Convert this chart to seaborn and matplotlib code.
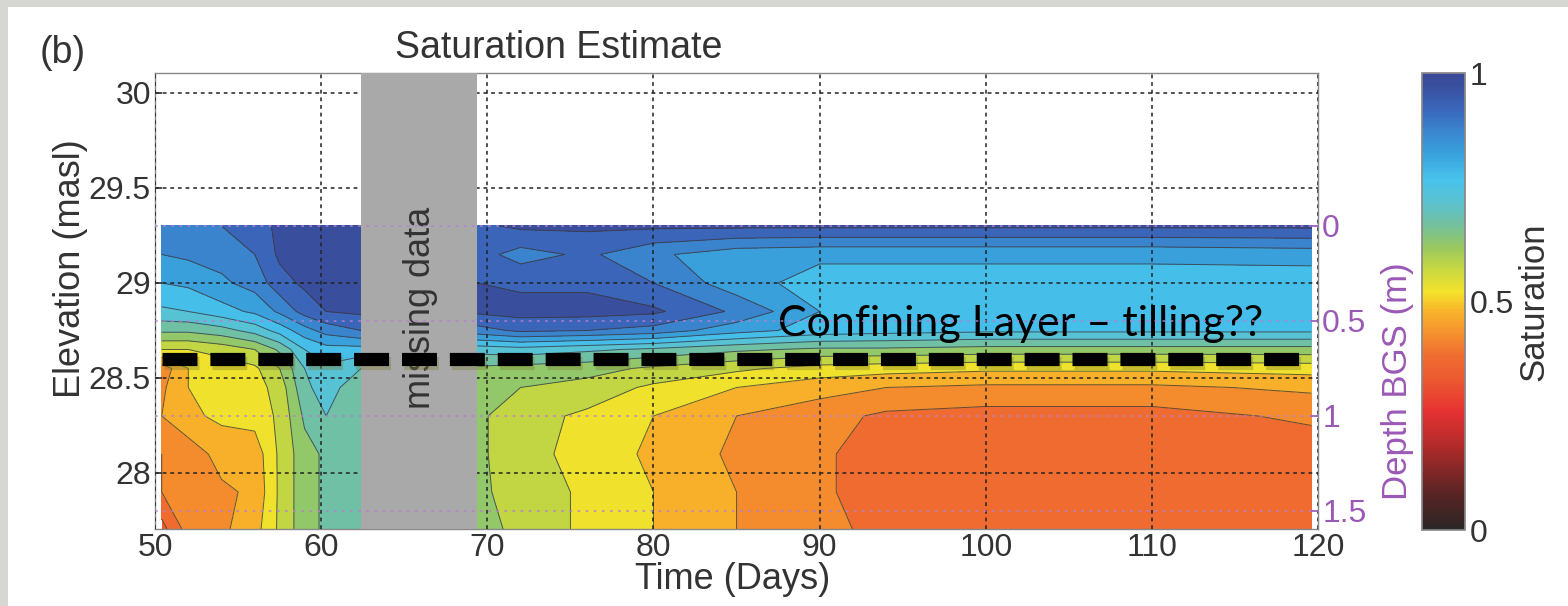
import numpy as np
import seaborn as sns
import matplotlib
matplotlib.use("Agg")
import matplotlib.pyplot as plt
import matplotlib.patheffects as pe
from matplotlib.colors import LinearSegmentedColormap, Normalize
from matplotlib.patches import Rectangle

# elevation rows (masl), top of monitored profile down to bottom
elev = [29.3, 29.15, 29.0, 28.85, 28.75, 28.65, 28.55, 28.45, 28.3, 28.1, 27.9, 27.7]

# days before the data gap
t_early = [50.4, 52, 54, 56, 57.5, 59, 60.3, 62.4]
sat_early = [
    [0.89, 0.85, 0.80, 0.74, 0.66, 0.55, 0.42, 0.44, 0.45, 0.40, 0.40, 0.33],
    [0.90, 0.86, 0.81, 0.75, 0.66, 0.55, 0.50, 0.50, 0.49, 0.42, 0.42, 0.42],
    [0.90, 0.87, 0.84, 0.78, 0.68, 0.57, 0.52, 0.52, 0.51, 0.47, 0.44, 0.44],
    [0.93, 0.90, 0.87, 0.81, 0.72, 0.60, 0.54, 0.53, 0.52, 0.47, 0.46, 0.48],
    [0.96, 0.96, 0.93, 0.86, 0.77, 0.66, 0.60, 0.57, 0.56, 0.56, 0.56, 0.56],
    [0.97, 0.97, 0.96, 0.92, 0.83, 0.75, 0.70, 0.69, 0.66, 0.63, 0.63, 0.63],
    [0.97, 0.97, 0.97, 0.95, 0.87, 0.78, 0.74, 0.72, 0.70, 0.66, 0.66, 0.66],
    [0.97, 0.97, 0.97, 0.96, 0.90, 0.78, 0.70, 0.67, 0.66, 0.66, 0.65, 0.66],
]

# days after the data gap
t_late = [69.4, 72, 76, 80, 85, 90, 94, 100, 110, 119.6]
sat_late = [
    [0.94, 0.92, 0.95, 0.96, 0.88, 0.72, 0.64, 0.62, 0.61, 0.61, 0.61, 0.63],
    [0.96, 0.88, 0.94, 0.97, 0.91, 0.73, 0.63, 0.60, 0.57, 0.57, 0.58, 0.58],
    [0.96, 0.91, 0.94, 0.97, 0.90, 0.71, 0.62, 0.58, 0.54, 0.53, 0.54, 0.54],
    [0.96, 0.86, 0.90, 0.96, 0.88, 0.69, 0.59, 0.54, 0.50, 0.49, 0.50, 0.50],
    [0.96, 0.82, 0.82, 0.89, 0.82, 0.66, 0.56, 0.50, 0.45, 0.44, 0.45, 0.45],
    [0.96, 0.81, 0.78, 0.80, 0.78, 0.64, 0.53, 0.47, 0.42, 0.41, 0.41, 0.42],
    [0.96, 0.81, 0.78, 0.78, 0.77, 0.64, 0.52, 0.45, 0.39, 0.37, 0.37, 0.38],
    [0.96, 0.81, 0.78, 0.78, 0.76, 0.63, 0.51, 0.44, 0.38, 0.36, 0.36, 0.36],
    [0.96, 0.81, 0.78, 0.78, 0.76, 0.63, 0.51, 0.44, 0.38, 0.36, 0.36, 0.36],
    [0.96, 0.82, 0.77, 0.79, 0.76, 0.63, 0.52, 0.46, 0.41, 0.37, 0.36, 0.36],
]

gap_days = [62.4, 69.4]
ground_elev = 29.3
confining_elev = 28.6
confining_span = [50.4, 118.85]
depth_ticks = [0, 0.5, 1, 1.5]

sns.set_theme(style="white")
plt.rcParams["font.family"] = ["Liberation Sans", "DejaVu Sans"]

cmap = LinearSegmentedColormap.from_list("sat", [
    (0.00, "#2b2626"), (0.08, "#5a2424"), (0.18, "#b02a2a"), (0.26, "#e63232"),
    (0.33, "#ec5a30"), (0.38, "#ef6c30"), (0.43, "#f5912e"), (0.48, "#f8b42a"),
    (0.52, "#f5e22a"), (0.57, "#c8d840"), (0.62, "#98c860"), (0.67, "#72c0a0"),
    (0.72, "#5ac2d2"), (0.77, "#48c2ec"), (0.82, "#3aa4de"), (0.87, "#3a88d0"),
    (0.92, "#3a68bc"), (0.97, "#3a50a0"), (1.00, "#3a4898")])
norm = Normalize(0, 1)
levels = np.arange(0, 1.0001, 0.05)

fig = plt.figure(figsize=(15.68, 6.06), dpi=100, facecolor="#d6d6d2")
fig.patches.append(Rectangle((8 / 1568, 0), 1, 1 - 7 / 606, transform=fig.transFigure,
                             facecolor="white", edgecolor="none", zorder=-10))

ax = fig.add_axes([0.0989, 0.127, 0.7417, 0.7525])
ax.set_facecolor("white")

for t, s in [(t_early, sat_early), (t_late, sat_late)]:
    X, Y = np.meshgrid(t, elev)
    Z = np.array(s).T
    ax.contourf(X, Y, Z, levels=levels, cmap=cmap, norm=norm, zorder=1)
    ax.contour(X, Y, Z, levels=levels, colors="#3a3a3a", linewidths=0.7, alpha=0.8, zorder=1.5)

ax.axvspan(gap_days[0], gap_days[1], color="#a9a9a9", lw=0, zorder=3)
ax.text(sum(gap_days) / 2 + 0.1, 28.87, "missing data", rotation=90, ha="center", va="center",
        fontsize=26, color="#333333", zorder=4)

ax.axhline(confining_elev, xmin=(confining_span[0] - 50) / 70, xmax=(confining_span[1] - 50) / 70,
           color="black", lw=9.5, linestyle=(0, (2.65, 0.98)), zorder=5,
           path_effects=[pe.SimpleLineShadow(offset=(1.5, -3), shadow_color="#7a7a30", alpha=0.35),
                         pe.Normal()])
ax.text(87.5, 28.72, "Confining Layer \u2013 tilling??", fontsize=31, family="Lato",
        color="black", ha="left", va="baseline", zorder=6)

ax.set_xlim(50, 120)
ax.set_ylim(27.705, 30.105)
ax.set_xticks([50, 60, 70, 80, 90, 100, 110, 120])
ax.set_yticks([28, 28.5, 29, 29.5, 30])
ax.set_yticklabels(["28", "28.5", "29", "29.5", "30"])
ax.grid(True, color="#222222", linestyle=(0, (2.5, 2.5)), lw=1.1)
ax.set_axisbelow(False)
for sp in ax.spines.values():
    sp.set_color("#888888")
    sp.set_linewidth(1.0)
ax.tick_params(direction="in", length=5, labelsize=23, colors="#333333", pad=3)
ax.set_xlabel("Time (Days)", fontsize=26, color="#333333")
ax.xaxis.set_label_coords(0.497, -0.072)
ax.xaxis.label.set_va("top")
ax.set_ylabel("Elevation (masl)", fontsize=26, color="#333333")
ax.yaxis.set_label_coords(-0.058, 0.57)

# depth below ground surface on the right
ax2 = ax.twinx()
ax2.set_ylim(ground_elev - 27.705, ground_elev - 30.105)
ax2.set_yticks(depth_ticks)
ax2.set_yticklabels(["0", "0.5", "1", "1.5"])
ax2.tick_params(direction="in", length=5, labelsize=23, colors="#9b59b6", pad=3)
ax2.grid(True, axis="y", color="#b67fcf", linestyle=(0, (1.5, 3)), lw=1.3, alpha=0.8)
ax2.set_ylabel("Depth BGS (m)", fontsize=25, color="#9b59b6")
ax2.yaxis.set_label_coords(1.054, 0.325)
for sp in ax2.spines.values():
    sp.set_visible(False)

cax = fig.add_axes([0.907, 0.1254, 0.0274, 0.754])
sm = plt.cm.ScalarMappable(norm=norm, cmap=cmap)
cb = fig.colorbar(sm, cax=cax, ticks=[0, 0.5, 1])
cb.ax.set_yticklabels(["0", "0.5", "1"])
cb.ax.tick_params(labelsize=23, colors="#333333", length=0, pad=3)
cb.outline.set_edgecolor("#888888")
cb.set_label("Saturation", fontsize=25, color="#333333", labelpad=3)

fig.text(0.356, 0.921, "Saturation Estimate", fontsize=27, color="#333333", ha="center", va="center")
fig.text(0.025, 0.912, "(b)", fontsize=27, color="#333333", ha="left", va="center")

fig.savefig("out.png", dpi=100, facecolor=fig.get_facecolor())
